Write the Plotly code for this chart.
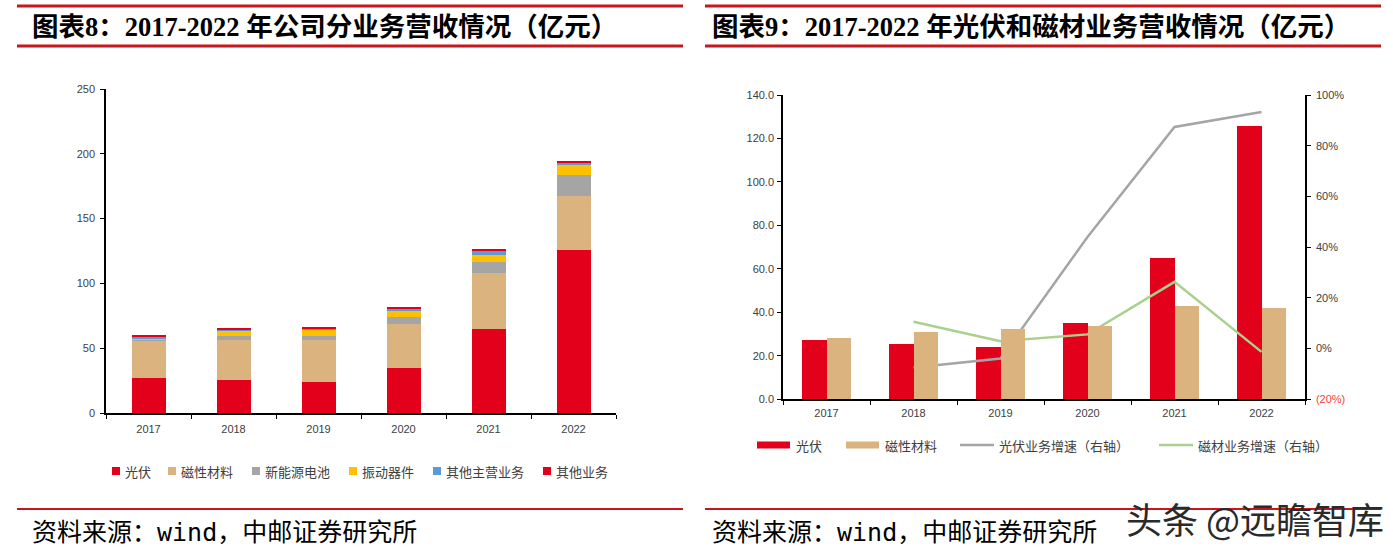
import plotly.graph_objects as go

# ---------------- data ----------------
years = ['2017', '2018', '2019', '2020', '2021', '2022']
pv = [27.3, 25.4, 24.2, 35.0, 64.9, 125.7]          # 光伏
mag = [28.3, 31.1, 32.2, 33.7, 42.9, 42.0]          # 磁性材料
battery = [1.0, 2.8, 2.8, 5.4, 8.7, 16.2]           # 新能源电池
vib = [0.2, 3.6, 4.9, 5.2, 5.1, 7.2]                # 振动器件
other_main = [2.6, 1.8, 1.0, 1.5, 3.1, 2.3]         # 其他主营业务
other = [0.8, 1.1, 0.8, 1.0, 1.6, 1.3]              # 其他业务

growth_years = ['2018', '2019', '2020', '2021', '2022']
pv_growth = [-0.075, -0.039, 0.44, 0.874, 0.933]    # 光伏业务增速
mag_growth = [0.106, 0.029, 0.056, 0.263, -0.013]   # 磁材业务增速

left_ticks = [0, 50, 100, 150, 200, 250]
right_ticks = [0, 20, 40, 60, 80, 100, 120, 140]
pct_ticks = [-0.2, 0, 0.2, 0.4, 0.6, 0.8, 1.0]
pct_labels = ["<span style='color:#FF3B3B'>(20%)</span>", '0%', '20%', '40%', '60%', '80%', '100%']

# ---------------- styling ----------------
W, H = 1393, 553
def X(px): return px / W
def Y(py): return 1 - py / H

RED = '#E2001A'
TAN = '#DBB37E'
GREY = '#A5A5A5'
YEL = '#FFC000'
BLUE = '#5B9BD5'
GREEN = '#A9D18E'
TITLE_RED = '#C8161D'
TXT = '#404040'
TICKFONT = dict(family='Liberation Sans, Arial', size=11, color='#404040')
CJK = 'Noto Sans CJK SC'

fig = go.Figure()

# ----- left: stacked bars -----
left_series = [('光伏', pv, RED), ('磁性材料', mag, TAN), ('新能源电池', battery, GREY),
               ('振动器件', vib, YEL), ('其他主营业务', other_main, BLUE), ('其他业务', other, RED)]
for name, vals, col in left_series:
    fig.add_trace(go.Bar(x=years, y=vals, name=name, marker=dict(color=col, line=dict(width=0)),
                         width=0.4, xaxis='x', yaxis='y', showlegend=False))

# ----- right: grouped bars (two overlaid x axes so they sit side by side) -----
fig.add_trace(go.Bar(x=years, y=pv, name='光伏', marker=dict(color=RED, line=dict(width=0)),
                     width=0.28, offset=-0.28, xaxis='x2', yaxis='y2', showlegend=False))
fig.add_trace(go.Bar(x=years, y=mag, name='磁性材料', marker=dict(color=TAN, line=dict(width=0)),
                     width=0.28, offset=0, xaxis='x3', yaxis='y2', showlegend=False))
fig.add_trace(go.Scatter(x=growth_years, y=pv_growth, name='光伏业务增速（右轴）', mode='lines',
                         line=dict(color=GREY, width=2.5), xaxis='x2', yaxis='y3', showlegend=False))
fig.add_trace(go.Scatter(x=growth_years, y=mag_growth, name='磁材业务增速（右轴）', mode='lines',
                         line=dict(color=GREEN, width=2.5), xaxis='x2', yaxis='y3', showlegend=False))

axis_common = dict(showline=True, linecolor='#000000', linewidth=1.5, ticks='outside', ticklen=4,
                   tickcolor='#000000', showgrid=False, zeroline=False, tickfont=TICKFONT,
                   automargin=False)

fig.update_layout(
    width=W, height=H, autosize=False,
    margin=dict(l=0, r=0, t=0, b=0, pad=0, autoexpand=False),
    paper_bgcolor='white', plot_bgcolor='white', barmode='stack', showlegend=False,
    xaxis=dict(domain=[X(106), X(616)], anchor='y', type='category', tickson='boundaries',
               ticklabelstandoff=5, **axis_common),
    yaxis=dict(domain=[Y(413), Y(89)], anchor='x', range=[0, 250], tickvals=left_ticks,
               ticklabelstandoff=3, **axis_common),
    xaxis2=dict(domain=[X(783), X(1305)], anchor='y2', type='category', tickson='boundaries',
                ticklabelstandoff=3, **axis_common),
    xaxis3=dict(overlaying='x2', matches='x2', anchor='y2', type='category', visible=False),
    yaxis2=dict(domain=[Y(399.3), Y(95)], anchor='x2', range=[0, 140], tickvals=right_ticks,
                tickformat='.1f', ticklabelstandoff=1, **axis_common),
    yaxis3=dict(overlaying='y2', side='right', anchor='x2', range=[-0.2, 1.0], tickvals=pct_ticks,
                ticktext=pct_labels, ticklabelstandoff=3, **axis_common),
)

shapes = []
annotations = []

# ----- title bars -----
for (x0, x1, title, tx) in [(17, 683, '图表8：2017-2022 年公司分业务营收情况（亿元）', 30),
                            (705, 1381, '图表9：2017-2022 年光伏和磁材业务营收情况（亿元）', 710)]:
    for yy in (6, 46):
        shapes.append(dict(type='line', xref='paper', yref='paper', x0=X(x0), x1=X(x1), y0=Y(yy), y1=Y(yy),
                           line=dict(color=TITLE_RED, width=3)))
    shapes.append(dict(type='line', xref='paper', yref='paper', x0=X(x0), x1=X(x1), y0=Y(509), y1=Y(509),
                       line=dict(color=TITLE_RED, width=2)))
    annotations.append(dict(text='<b>' + title + '</b>', xref='paper', yref='paper', x=X(tx), y=Y(27),
                            xanchor='left', yanchor='middle', showarrow=False,
                            font=dict(family='Liberation Serif, ' + CJK, size=26.5, color='#000000')))
    annotations.append(dict(text='资料来源：wind，中邮证券研究所', xref='paper', yref='paper', x=X(tx), y=Y(532),
                            xanchor='left', yanchor='middle', showarrow=False,
                            font=dict(family='DejaVu Sans Mono, ' + CJK, size=25, color='#000000')))

# ----- left legend -----
left_leg = [('光伏', RED, 112), ('磁性材料', TAN, 168), ('新能源电池', GREY, 252),
            ('振动器件', YEL, 349), ('其他主营业务', BLUE, 433), ('其他业务', RED, 543)]
for name, col, sx in left_leg:
    shapes.append(dict(type='rect', xref='paper', yref='paper', x0=X(sx), x1=X(sx + 8),
                       y0=Y(475), y1=Y(467), fillcolor=col, line=dict(width=0)))
    annotations.append(dict(text=name, xref='paper', yref='paper', x=X(sx + 11), y=Y(471),
                            xanchor='left', yanchor='middle', showarrow=False,
                            font=dict(family=CJK, size=13, color=TXT)))

# ----- right legend -----
right_leg = [('光伏', RED, 757, 'rect'), ('磁性材料', TAN, 846, 'rect'),
             ('光伏业务增速（右轴）', GREY, 960, 'line'), ('磁材业务增速（右轴）', GREEN, 1159, 'line')]
for name, col, sx, kind in right_leg:
    if kind == 'rect':
        shapes.append(dict(type='rect', xref='paper', yref='paper', x0=X(sx), x1=X(sx + 33),
                           y0=Y(448.5), y1=Y(441.5), fillcolor=col, line=dict(width=0)))
    else:
        shapes.append(dict(type='line', xref='paper', yref='paper', x0=X(sx), x1=X(sx + 34),
                           y0=Y(445), y1=Y(445), line=dict(color=col, width=2.5)))
    annotations.append(dict(text=name, xref='paper', yref='paper', x=X(sx + 37), y=Y(445),
                            xanchor='left', yanchor='middle', showarrow=False,
                            font=dict(family=CJK, size=13, color=TXT)))

# ----- watermark -----
annotations.append(dict(text='头条 @远瞻智库', xref='paper', yref='paper', x=X(1386), y=Y(518),
                        xanchor='right', yanchor='middle', showarrow=False,
                        font=dict(family=CJK, size=36, color='#2A2A2A')))

fig.update_layout(shapes=shapes, annotations=annotations)
fig.write_html('out.html', config={'displayModeBar': False},
               post_script="document.body.style.margin='0';document.body.style.overflow='hidden';")
